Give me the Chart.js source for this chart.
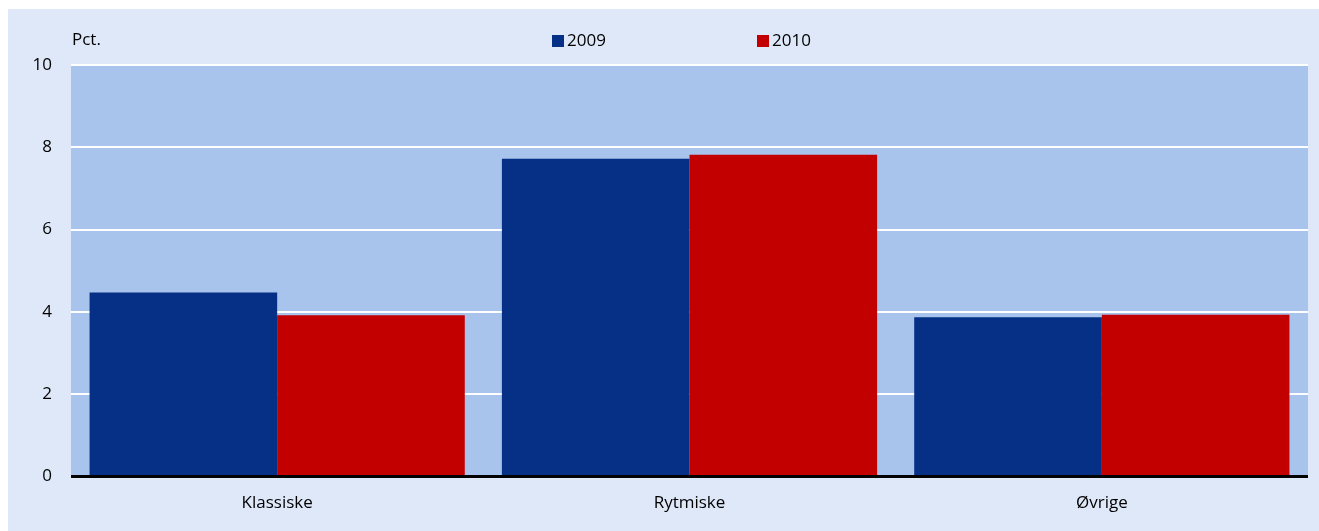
<!DOCTYPE html>
<html>
<head>
<meta charset="utf-8">
<script src="https://cdn.jsdelivr.net/npm/chart.js@4.4.0/dist/chart.umd.min.js"></script>
<style>
  html, body { margin: 0; padding: 0; background: #fff; }
  .panel { position: absolute; left: 8px; top: 9px; width: 1311px; height: 522px; background: #dfe8f8; }
  canvas { display: block; }
</style>
</head>
<body>
<div class="panel"><canvas id="chart" width="1311" height="522"></canvas></div>
<script>
const categories = ["Klassiske", "Rytmiske", "Øvrige"];
const series2009 = [4.47, 7.72, 3.87];
const series2010 = [3.92, 7.82, 3.93];
const seriesNames = ["2009", "2010"];
const yTicks = [0, 2, 4, 6, 8, 10];

const FONT = "'Open Sans', sans-serif";
const colors = ["#062f86", "#c30000"];

// plot background, zero line, legend and "Pct." label
const decor = {
  id: "decor",
  beforeDraw(chart) {
    const { ctx, chartArea: a } = chart;
    ctx.save();
    ctx.fillStyle = "#a8c3ec";
    ctx.fillRect(a.left, a.top, a.right - a.left, a.bottom - a.top);
    ctx.restore();
  },
  afterDatasetsDraw(chart) {
    const { ctx, chartArea: a, scales } = chart;
    const y0 = scales.y.getPixelForValue(0);
    ctx.save();
    ctx.strokeStyle = "#000";
    ctx.lineWidth = 3;
    ctx.beginPath();
    ctx.moveTo(a.left, y0);
    ctx.lineTo(a.right, y0);
    ctx.stroke();

    ctx.font = "17px " + FONT;
    ctx.fillStyle = "#000";
    ctx.textBaseline = "middle";
    ctx.textAlign = "left";
    ctx.fillText("Pct.", a.left + 1, 31);

    const offsets = [481, 686];
    chart.data.datasets.forEach((ds, i) => {
      const x = a.left + offsets[i];
      ctx.fillStyle = ds.backgroundColor;
      ctx.fillRect(x, 26, 12, 12);
      ctx.fillStyle = "#000";
      ctx.fillText(ds.label, x + 15, 32);
    });
    ctx.restore();
  }
};

new Chart(document.getElementById("chart"), {
  type: "bar",
  data: {
    labels: categories,
    datasets: [
      { label: seriesNames[0], data: series2009, backgroundColor: colors[0] },
      { label: seriesNames[1], data: series2010, backgroundColor: colors[1] }
    ]
  },
  options: {
    responsive: false,
    animation: false,
    devicePixelRatio: 1,
    datasets: { bar: { categoryPercentage: 0.91, barPercentage: 1.0 } },
    layout: { padding: { top: 56, right: 11, left: 0, bottom: 10 } },
    plugins: { legend: { display: false }, tooltip: { enabled: false } },
    scales: {
      x: {
        grid: { display: false },
        border: { display: false },
        ticks: { color: "#000", font: { family: FONT, size: 17 }, padding: 8 }
      },
      y: {
        min: yTicks[0],
        max: yTicks[yTicks.length - 1],
        afterFit(scale) { scale.width = 63; },
        grid: {
          color: "#ffffff",
          lineWidth: 2,
          drawTicks: false
        },
        border: { display: false },
        ticks: {
          stepSize: yTicks[1] - yTicks[0],
          autoSkip: false,
          color: "#000",
          font: { family: FONT, size: 17 },
          padding: 19
        }
      }
    }
  },
  plugins: [decor]
});
</script>
</body>
</html>
